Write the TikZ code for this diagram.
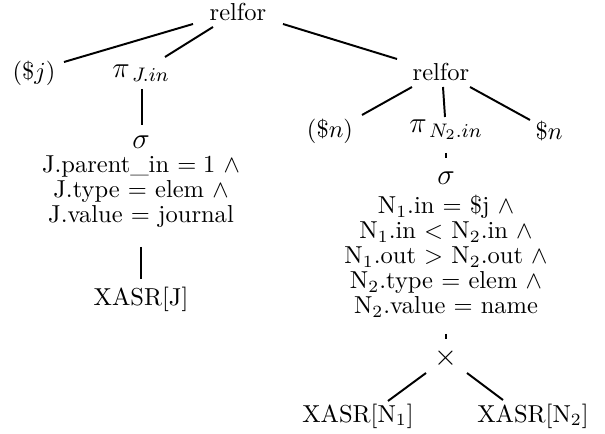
\documentclass[tikz,border=0pt]{standalone}
\usepackage{amsmath,amssymb}
\usetikzlibrary{positioning}

\begin{document}
\begin{tikzpicture}[x=0.408pt, y=-0.408pt,
    every node/.style={inner sep=0pt},
    cond/.style={align=center, font=\fontsize{10}{10.2}\selectfont},
    op/.style={font=\large},
    edge/.style={thick}]
    \useasboundingbox (0,0) rectangle (605,434);

    % Outer relfor and its children
    \node (top) at (238,12) {relfor};
    \node (varj) at (34,73) {(\$$j$)};
    \node[op] (piJ) at (141,73) {$\pi_{\,J.in}$};
    \node (rel2) at (441,72) {relfor};

    % Left branch
    \node[op] (sigJ) at (141,142) {$\sigma$};
    \node[cond] (condJ) at (141,192) {J.parent\_in $= 1\ \wedge$\\J.type $=$ elem $\wedge$\\J.value $=$ journal};
    \node (xJ) at (141,299) {XASR[J]};

    % Inner relfor and its children
    \node (varn) at (330,131) {(\$$n$)};
    \node[op] (piN) at (446,130) {$\pi_{\,N_2.in}$};
    \node (outn) at (549,131) {\$$n$};

    % Right branch
    \node[op] (sigN) at (446,178) {$\sigma$};
    \node[cond] (condN) at (446,256) {N$_1$.in $=$ \$j $\wedge$\\N$_1$.in $<$ N$_2$.in $\wedge$\\N$_1$.out $>$ N$_2$.out $\wedge$\\N$_2$.type $=$ elem $\wedge$\\N$_2$.value $=$ name};
    \node[op] (cross) at (446,358) {$\times$};
    \node (xN1) at (358,416) {XASR[N$_1$]};
    \node (xN2) at (533,416) {XASR[N$_2$]};

    % Edges
    \draw[edge] ([shift={(-45,12)}]top.center) -- ([shift={(30,-11)}]varj.center);
    \draw[edge] ([shift={(-25,15)}]top.center) -- ([shift={(24,-16)}]piJ.center);
    \draw[edge] ([shift={(45,12)}]top.center) -- ([shift={(-44,-13)}]rel2.center);
    \draw[edge] ([shift={(1,16)}]piJ.center) -- ([shift={(1,-17)}]sigJ.center);
    \draw[edge] ([shift={(0,55)}]condJ.center) -- ([shift={(0,-20)}]xJ.center);
    \draw[edge] ([shift={(-29,15)}]rel2.center) -- ([shift={(32,-16)}]varn.center);
    \draw[edge] ([shift={(2,15)}]rel2.center) -- ([shift={(-1,-13)}]piN.center);
    \draw[edge] ([shift={(29,15)}]rel2.center) -- ([shift={(-19,-11)}]outn.center);
    \draw[edge] ([shift={(0,23)}]piN.center) -- ([shift={(0,-20)}]sigN.center);
    \draw[edge] ([shift={(0,78)}]condN.center) -- ([shift={(0,-19)}]cross.center);
    \draw[edge] ([shift={(-20,15)}]cross.center) -- ([shift={(30,-15)}]xN1.center);
    \draw[edge] ([shift={(21,15)}]cross.center) -- ([shift={(-30,-16)}]xN2.center);
\end{tikzpicture}
\end{document}
